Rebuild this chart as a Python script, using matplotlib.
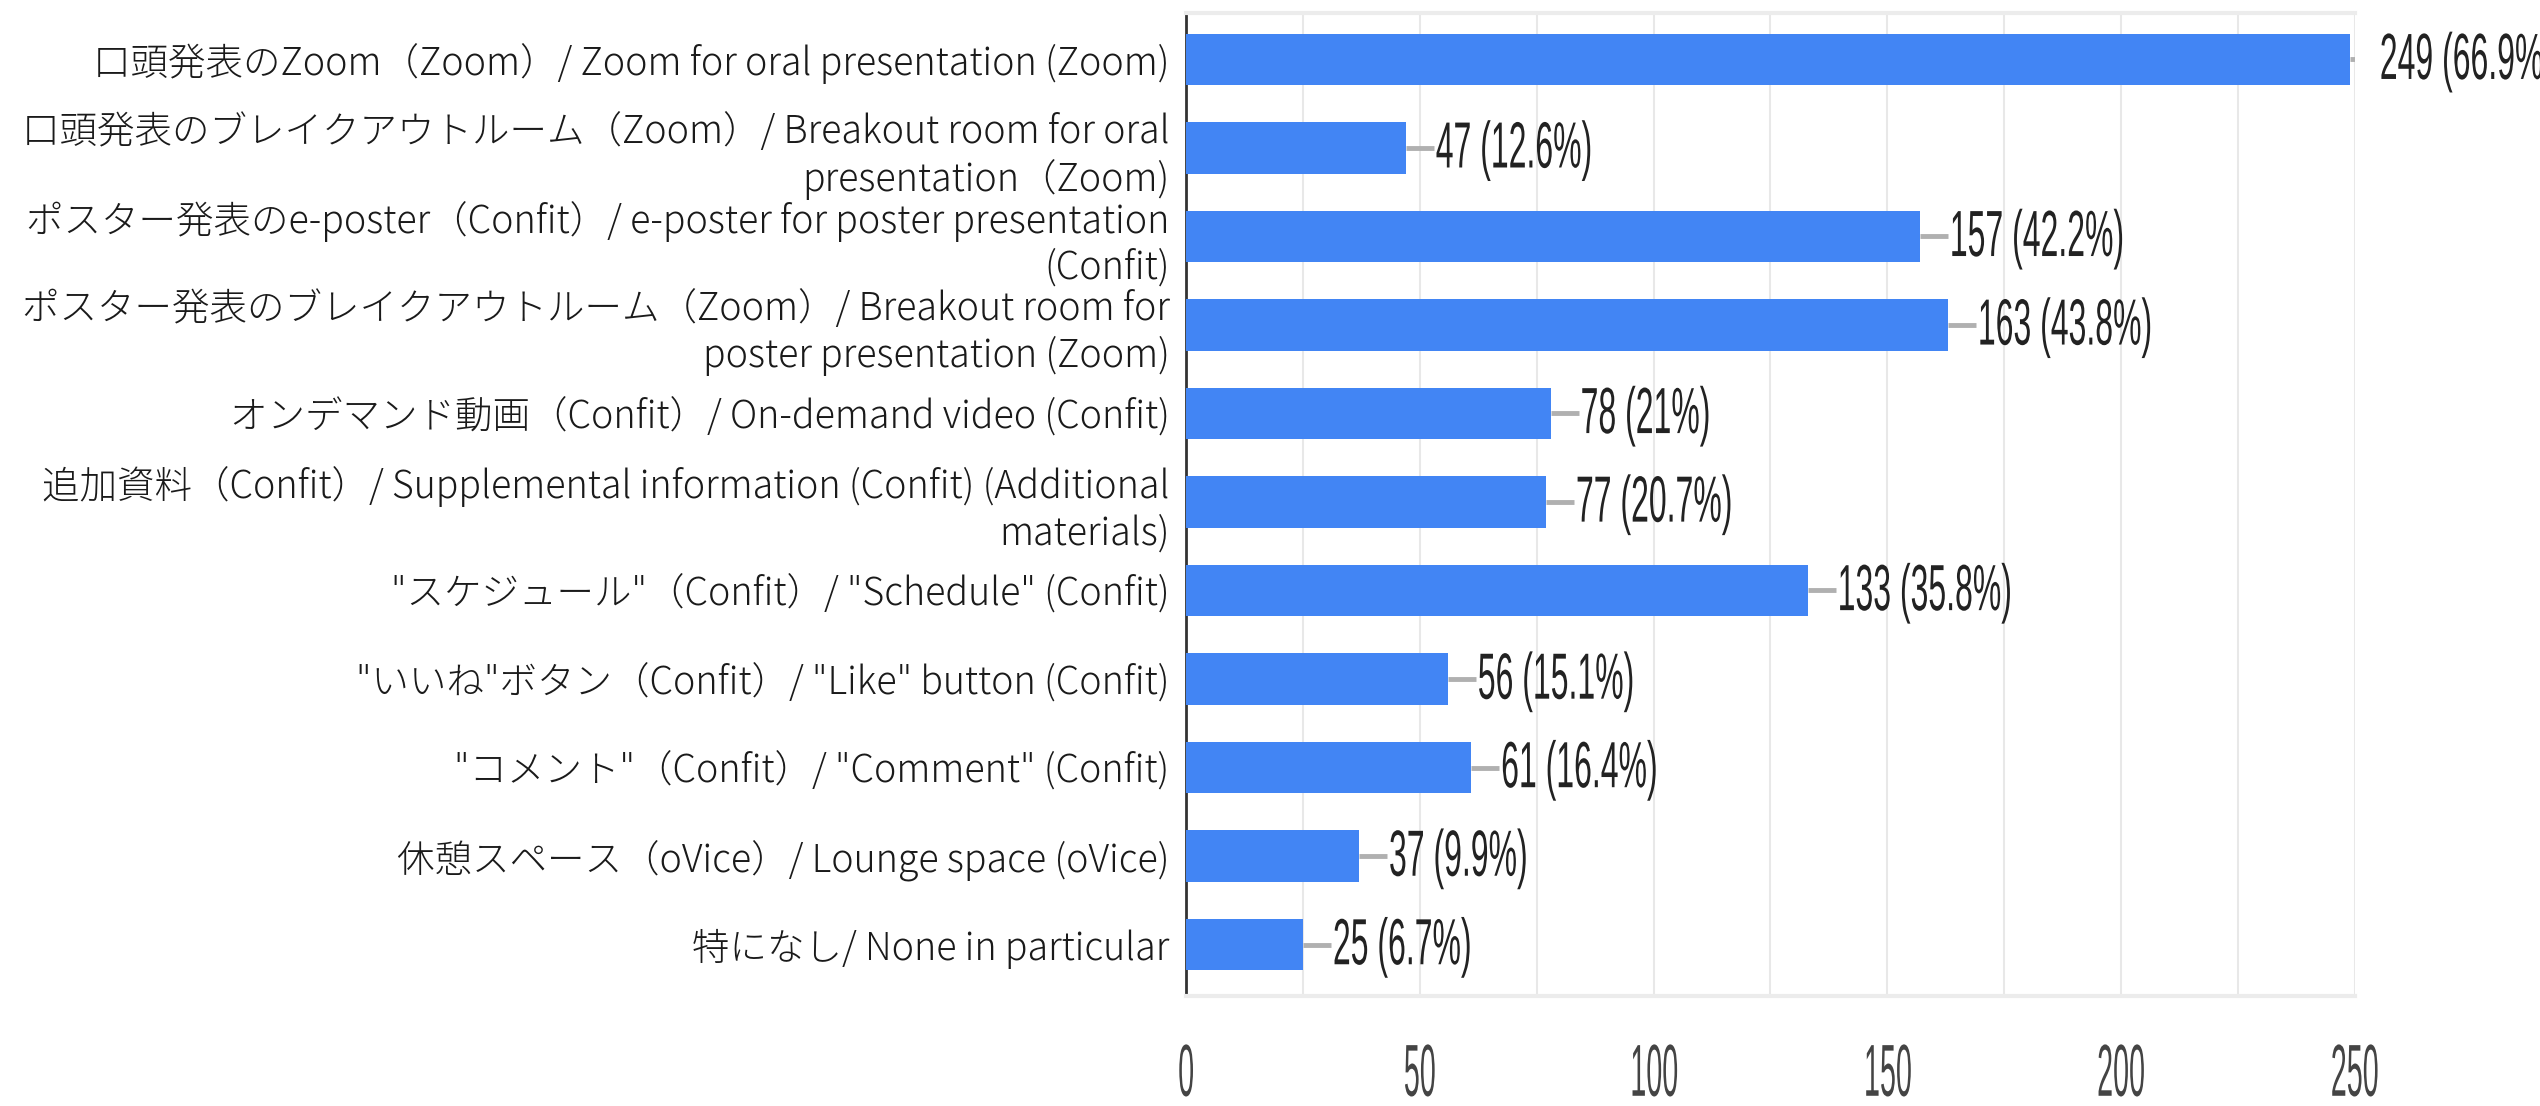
import matplotlib
matplotlib.use("Agg")
import matplotlib.pyplot as plt
from matplotlib.patheffects import AbstractPathEffect
from matplotlib.transforms import Affine2D
import numpy as np

categories = [
    "口頭発表のZoom（Zoom）/ Zoom for oral presentation (Zoom)",
    "口頭発表のブレイクアウトルーム（Zoom）/ Breakout room for oral\npresentation（Zoom)",
    "ポスター発表のe-poster（Confit）/ e-poster for poster presentation\n(Confit)",
    "ポスター発表のブレイクアウトルーム（Zoom）/ Breakout room for\nposter presentation (Zoom)",
    "オンデマンド動画（Confit）/ On-demand video (Confit)",
    "追加資料（Confit）/ Supplemental information (Confit) (Additional\nmaterials)",
    "\"スケジュール\"（Confit）/ \"Schedule\" (Confit)",
    "\"いいね\"ボタン（Confit）/ \"Like\" button (Confit)",
    "\"コメント\"（Confit）/ \"Comment\" (Confit)",
    "休憩スペース（oVice）/ Lounge space (oVice)",
    "特になし/ None in particular",
]
counts = [249, 47, 157, 163, 78, 77, 133, 56, 61, 37, 25]
percents = ["66.9%", "12.6%", "42.2%", "43.8%", "21%", "20.7%", "35.8%",
            "15.1%", "16.4%", "9.9%", "6.7%"]


class Squeeze(AbstractPathEffect):
    # squeeze glyphs horizontally (the source image is stretched)
    def __init__(self, sx, anchor="left"):
        super().__init__()
        self.sx = sx
        self.anchor = anchor

    def draw_path(self, renderer, gc, tpath, affine, rgbFace=None):
        cx = 0
        if self.anchor == "center":
            ext = tpath.get_extents()
            cx = (ext.x0 + ext.x1) / 2
        t = Affine2D().translate(-cx, 0).scale(self.sx, 1).translate(cx, 0) + affine
        renderer.draw_path(gc, tpath, t, rgbFace)


jp = ["Noto Sans CJK JP", "DejaVu Sans"]
arial = ["Liberation Sans", "DejaVu Sans"]

fig = plt.figure(figsize=(25.4, 11.06), dpi=100)
ax = fig.add_axes([0.467, 0.0995, 0.46, 0.8885])

y = np.arange(len(categories))
ax.barh(y, counts, height=0.58, color="#4285f4", zorder=3)

# leader lines + value labels
for i, (c, p) in enumerate(zip(counts, percents)):
    ax.plot([c, c + 6], [i, i], color="#b0b0b0", lw=3.5, zorder=2,
            solid_capstyle="butt")
    ax.text(c + 6.4, i + 0.03, f"{c} ({p})", va="center", ha="left",
            fontsize=47, family=arial, color="#222222", clip_on=False,
            path_effects=[Squeeze(0.49)])

ax.set_xlim(0, 250)
ax.set_ylim(len(categories) - 0.42, -0.52)

ax.set_xticks(np.arange(0, 251, 50))
ax.set_xticks(np.arange(25, 251, 50), minor=True)
ax.set_xticklabels([str(v) for v in range(0, 251, 50)])
for lab in ax.get_xticklabels():
    lab.set_fontsize(53)
    lab.set_family(arial)
    lab.set_color("#444444")
    lab.set_path_effects([Squeeze(0.39, "center")])
ax.grid(axis="x", which="both", color="#e8e8e8", lw=1.5, zorder=0)
ax.tick_params(axis="x", which="both", length=0, pad=33)

ax.set_yticks(y)
ax.set_yticklabels(categories, family=jp, fontsize=27, color="#1a1a1a",
                   linespacing=1.22, fontweight="light")
ax.tick_params(axis="y", length=0, pad=12)

ax.spines["left"].set_color("#333333")
ax.spines["left"].set_linewidth(2)
ax.spines["right"].set_visible(False)
for s in ["top", "bottom"]:
    ax.spines[s].set_color("#ececec")
    ax.spines[s].set_linewidth(3)

fig.savefig("out.png", dpi=100)
